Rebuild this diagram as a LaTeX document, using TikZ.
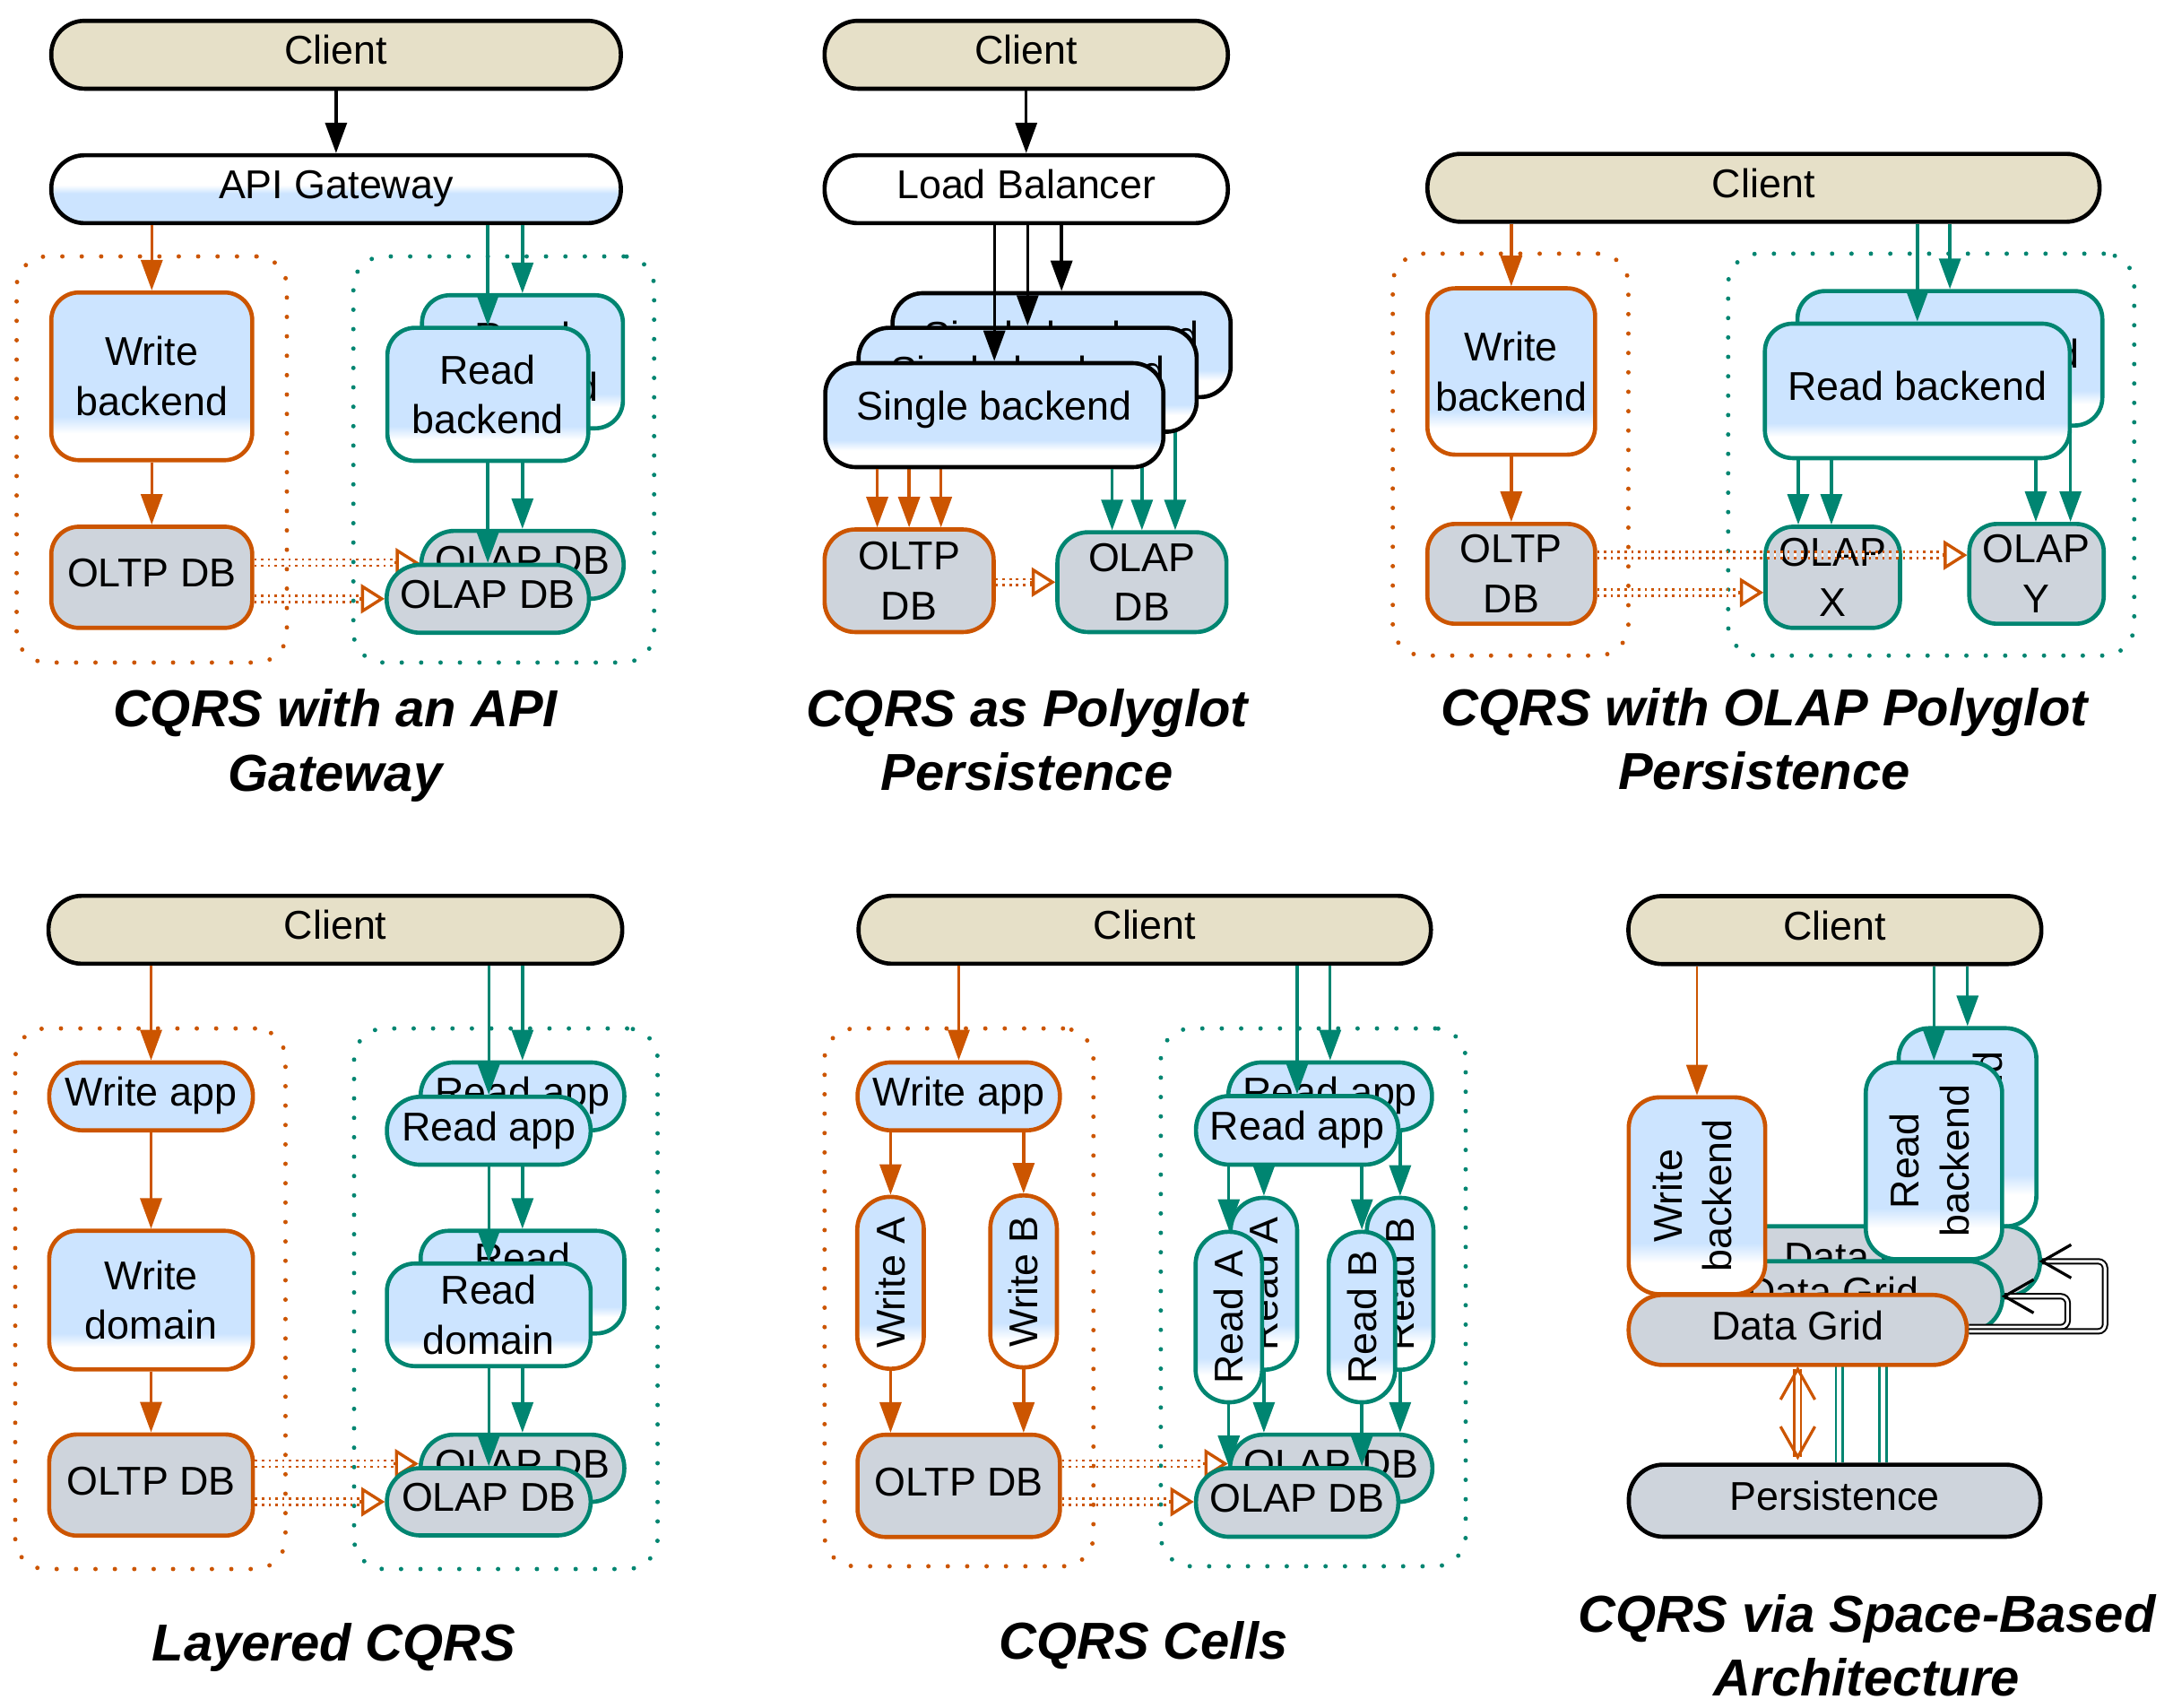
\documentclass[tikz,border=0pt]{standalone}
\usepackage{fontspec}
\usepackage{graphicx}
\setmainfont{Liberation Sans}
\usetikzlibrary{arrows.meta}

\definecolor{orng}{RGB}{204,85,0}
\definecolor{tealc}{RGB}{0,133,113}
\definecolor{lblue}{RGB}{204,228,255}
\definecolor{dbgray}{RGB}{206,212,220}
\definecolor{beige}{RGB}{230,224,200}

% light blue body that turns white near the bottom edge
\pgfdeclareverticalshading{bluewhite}{100bp}{color(0bp)=(white); color(33bp)=(white); color(38bp)=(lblue); color(100bp)=(lblue)}
% white upper half, light blue lower half
\pgfdeclareverticalshading{whiteblue}{100bp}{color(0bp)=(lblue); color(47bp)=(lblue); color(53bp)=(white); color(100bp)=(white)}

\tikzset{
  every node/.style={inner sep=0pt, align=center, font=\fontsize{29}{36}\selectfont},
  sz/.style 2 args={minimum width=#1pt, minimum height=#2pt},
  rc/.style={rounded corners=#1pt},
  one/.style={text height=21pt, text depth=7pt},
  sbk/.style={text height=21pt, text depth=14pt},
  bx/.style={rectangle, line width=3pt},
  cli/.style={bx, draw=black, fill=beige},
  gate/.style={bx, draw=black, shading=whiteblue, shade},
  plain/.style={bx, draw=black, fill=white},
  obox/.style={bx, draw=orng, shading=bluewhite, shade},
  tbox/.style={bx, draw=tealc, shading=bluewhite, shade},
  kbox/.style={bx, draw=black, shading=bluewhite, shade},
  oapp/.style={bx, draw=orng, fill=lblue},
  tapp/.style={bx, draw=tealc, fill=lblue},
  odb/.style={bx, draw=orng, fill=dbgray},
  tdb/.style={bx, draw=tealc, fill=dbgray},
  kdb/.style={bx, draw=black, fill=dbgray},
  cont/.style={rectangle, line width=3.2pt, dash pattern=on 0pt off 14pt, line cap=round, rounded corners=22pt},
  ocont/.style={cont, draw=orng},
  tcont/.style={cont, draw=tealc},
  arr/.style={line width=2.2pt, -{Triangle[length=22pt,width=15.5pt]}},
  karr/.style={arr, draw=black},
  oarr/.style={arr, draw=orng},
  tarr/.style={arr, draw=tealc},
  sync/.style={draw=orng, line width=1.7pt, double=white, double distance=2.8pt, dash pattern=on 1.7pt off 3.2pt, shorten >=17pt},
  synchead/.style={draw=orng, line width=2.2pt, -{Triangle[open,length=17pt,width=21pt]}},
  ttl/.style={font=\fontsize{37.5}{46}\selectfont\bfseries\itshape},
  kdbl/.style={draw=black, line width=1.3pt, double=white, double distance=2pt, rounded corners=5pt},
  odbl/.style={draw=orng, line width=1.7pt, double=white, double distance=3.2pt},
  tdbl/.style={draw=tealc, line width=1.8pt, double=white, double distance=3.2pt},
  kvee/.style={draw=black, line width=2.1pt},
  ovee/.style={draw=orng, line width=2.1pt},
}

\begin{document}
\begin{tikzpicture}[x=1pt, y=-1pt]
\useasboundingbox (0,0) rectangle (1568,1232);

% ================= CQRS with an API Gateway =================
\node[ocont, sz={195}{293}] (oc1) at (109.5,331.5) {};
\node[tcont, sz={217}{293}] (tc1) at (363.5,331.5) {};
\node[cli, one, sz={411}{49}, rc=24] (c1) at (242.5,39.5) {Client};
\node[gate, one, sz={411}{49}, rc=24] (gw1) at (242.5,136.5) {API Gateway};
\node[obox, sz={145}{121}, rc=20] (wb1) at (109.5,271.5) {Write\\backend};
\node[odb, one, sz={145}{73}, rc=20] (oltp1) at (109.5,416.5) {OLTP DB};
\node[tbox, sz={145}{96}, rc=20] (rbB1) at (377,261) {Read\\backend};
\node[tdb, one, sz={146}{49}, rc=24] (olapB1) at (377,407.5) {OLAP DB};
\draw[tarr] (gw1.south -| rbB1.north) -- (rbB1.north);
\draw[tarr] (rbB1.south) -- (olapB1.north);
\coordinate (r1u) at (0,406);
\coordinate (r1l) at (0,432);
\draw[sync] (oltp1.east |- r1u) -- (olapB1.west |- r1u);
\draw[synchead] (olapB1.west |- r1u) ++(-18,0) -- ++(18,0);
\node[tbox, sz={145}{96}, rc=20] (rbF1) at (352,284.5) {Read\\backend};
\node[tdb, one, sz={146}{49}, rc=24] (olapF1) at (352,432) {OLAP DB};
\draw[tarr] (gw1.south -| rbF1.north) -- (rbF1.north);
\draw[tarr] (rbF1.south) -- (olapF1.north);
\draw[sync] (oltp1.east |- r1l) -- (olapF1.west |- r1l);
\draw[synchead] (olapF1.west |- r1l) ++(-18,0) -- ++(18,0);
\draw[karr] (c1) -- (gw1);
\draw[oarr] (gw1.south -| wb1.north) -- (wb1.north);
\draw[oarr] (wb1) -- (oltp1);
\node[ttl] (t1) at (242,537.9) {CQRS with an API\\Gateway};

% ================= CQRS as Polyglot Persistence =================
\node[cli, one, sz={291}{49}, rc=24] (c2) at (740.5,39.5) {Client};
\node[plain, one, sz={291}{49}, rc=24] (lb2) at (740.5,136.5) {Load Balancer};
\node[odb, sz={122}{74}, rc=22] (oltp2) at (656,419) {OLTP\\DB};
\node[tdb, sz={122}{72}, rc=22] (olap2) at (824,420) {OLAP\\DB};
\coordinate (x2a) at (633,0);
\coordinate (x2b) at (656,0);
\coordinate (x2c) at (679,0);
\coordinate (x2d) at (802.5,0);
\coordinate (x2e) at (824,0);
\coordinate (x2f) at (848,0);
\node[kbox, sbk, sz={244}{75}, rc=22] (sbB2) at (766,249) {Single backend};
\draw[karr] (lb2.south -| sbB2.north) -- (sbB2.north);
\draw[oarr] (sbB2.south -| x2c) -- (oltp2.north -| x2c);
\draw[tarr] (sbB2.south -| x2f) -- (olap2.north -| x2f);
\node[kbox, sbk, sz={244}{75}, rc=22] (sbM2) at (741.5,274) {Single backend};
\draw[karr] (lb2.south -| sbM2.north) -- (sbM2.north);
\draw[oarr] (sbM2.south -| x2b) -- (oltp2.north -| x2b);
\draw[tarr] (sbM2.south -| x2e) -- (olap2.north -| x2e);
\node[kbox, sbk, sz={244}{75}, rc=22] (sbF2) at (717.5,299.5) {Single backend};
\draw[karr] (lb2.south -| sbF2.north) -- (sbF2.north);
\draw[oarr] (sbF2.south -| x2a) -- (oltp2.north -| x2a);
\draw[tarr] (sbF2.south -| x2d) -- (olap2.north -| x2d);
\draw[karr] (c2) -- (lb2);
\coordinate (r2) at (0,420);
\draw[sync] (oltp2.east |- r2) -- (olap2.west |- r2);
\draw[synchead] (olap2.west |- r2) ++(-18,0) -- ++(18,0);
\node[ttl] (t2) at (741,533.9) {CQRS as Polyglot\\Persistence};

% ================= CQRS with OLAP Polyglot Persistence =================
\node[ocont, sz={170}{290}] (oc3) at (1090,328) {};
\node[tcont, sz={293}{290}] (tc3) at (1393.5,328) {};
\node[cli, one, sz={485}{49}, rc=24] (c3) at (1272.5,135.5) {Client};
\node[obox, sz={121}{120}, rc=20] (wb3) at (1090.5,268) {Write\\backend};
\node[odb, sz={121}{72}, rc=20] (oltp3) at (1090.5,414) {OLTP\\DB};
\node[tdb, sz={97}{73}, rc=20] (olapX3) at (1322.5,416.5) {OLAP\\X};
\node[tdb, sz={97}{72}, rc=20] (olapY3) at (1469.5,414) {OLAP\\Y};
\coordinate (x3a) at (1297.6,0);
\coordinate (x3b) at (1321.5,0);
\coordinate (x3c) at (1469,0);
\coordinate (x3d) at (1494,0);
\node[tbox, one, sz={220}{97}, rc=20] (rbB3) at (1407,258.5) {Read backend};
\draw[tarr] (c3.south -| rbB3.north) -- (rbB3.north);
\draw[tarr] (rbB3.south -| x3b) -- (olapX3.north -| x3b);
\draw[tarr] (rbB3.south -| x3d) -- (olapY3.north -| x3d);
\node[tbox, one, sz={220}{97}, rc=20] (rbF3) at (1383.5,282) {Read backend};
\draw[tarr] (c3.south -| rbF3.north) -- (rbF3.north);
\draw[tarr] (rbF3.south -| x3a) -- (olapX3.north -| x3a);
\draw[tarr] (rbF3.south -| x3c) -- (olapY3.north -| x3c);
\draw[oarr] (c3.south -| wb3.north) -- (wb3.north);
\draw[oarr] (wb3) -- (oltp3);
\coordinate (r3u) at (0,400.5);
\coordinate (r3l) at (0,427.5);
\draw[sync] (oltp3.east |- r3u) -- (olapY3.west |- r3u);
\draw[synchead] (olapY3.west |- r3u) ++(-18,0) -- ++(18,0);
\draw[sync] (oltp3.east |- r3l) -- (olapX3.west |- r3l);
\draw[synchead] (olapX3.west |- r3l) ++(-18,0) -- ++(18,0);
\node[ttl] (t3) at (1273,532.9) {CQRS with OLAP Polyglot\\Persistence};

% ================= Layered CQRS =================
\node[ocont, sz={195}{390}] (oc4) at (108.5,937) {};
\node[tcont, sz={219}{390}] (tc4) at (365,937) {};
\node[cli, one, sz={414}{49}, rc=24] (c4) at (242,670.8) {Client};
\node[oapp, one, sz={147}{49}, rc=24] (wapp4) at (109,791) {Write app};
\node[obox, sz={147}{100}, rc=20] (wdom4) at (109,938) {Write\\domain};
\node[odb, one, sz={147}{73}, rc=20] (oltp4) at (109,1071.4) {OLTP DB};
\node[tapp, one, sz={147}{49}, rc=24] (rappB4) at (377,791) {Read app};
\node[tbox, sz={147}{74}, rc=20] (rdomB4) at (377,925) {Read\\domain};
\node[tdb, one, sz={147}{48.5}, rc=24] (olapB4) at (377,1059.3) {OLAP DB};
\draw[tarr] (c4.south -| rappB4.north) -- (rappB4.north);
\draw[tarr] (rappB4) -- (rdomB4);
\draw[tarr] (rdomB4) -- (olapB4);
\coordinate (r4u) at (0,1056);
\coordinate (r4l) at (0,1083.5);
\draw[sync] (oltp4.east |- r4u) -- (olapB4.west |- r4u);
\draw[synchead] (olapB4.west |- r4u) ++(-18,0) -- ++(18,0);
\node[tapp, one, sz={147}{49}, rc=24] (rappF4) at (352.7,815.8) {Read app};
\node[tbox, sz={147}{74}, rc=20] (rdomF4) at (352.7,948.6) {Read\\domain};
\node[tdb, one, sz={147}{48.5}, rc=24] (olapF4) at (352.7,1083.5) {OLAP DB};
\draw[tarr] (c4.south -| rappF4.north) -- (rappF4.north);
\draw[tarr] (rappF4) -- (rdomF4);
\draw[tarr] (rdomF4) -- (olapF4);
\draw[sync] (oltp4.east |- r4l) -- (olapF4.west |- r4l);
\draw[synchead] (olapF4.west |- r4l) ++(-18,0) -- ++(18,0);
\draw[oarr] (c4.south -| wapp4.north) -- (wapp4.north);
\draw[oarr] (wapp4) -- (wdom4);
\draw[oarr] (wdom4) -- (oltp4);
\node[ttl] (t4) at (241,1188.9) {Layered CQRS};

% ================= CQRS Cells =================
\node[ocont, sz={194}{388}] (oc5) at (692,936) {};
\node[tcont, sz={220}{388}] (tc5) at (947.6,936) {};
\node[cli, one, sz={413}{49}, rc=24] (c5) at (826,670.8) {Client};
\node[oapp, one, sz={146}{49}, rc=24] (wapp5) at (691.8,791) {Write app};
\node[obox, sz={48}{124}, rc=23.5] (wA5) at (642.6,925.5) {\rotatebox{90}{Write A}};
\node[obox, sz={48}{124}, rc=23.5] (wB5) at (738.6,924.5) {\rotatebox{90}{Write B}};
\node[odb, one, sz={146}{73.7}, rc=20] (oltp5) at (691.8,1072) {OLTP DB};
\node[tapp, one, sz={147}{49}, rc=24] (rappB5) at (959.8,791) {Read app};
\node[tbox, sz={48}{124}, rc=23.5] (rAB5) at (912,926.2) {\rotatebox{90}{Read A}};
\node[tbox, sz={48}{124}, rc=23.5] (rBB5) at (1010.3,926.2) {\rotatebox{90}{Read B}};
\node[tdb, one, sz={146}{48.5}, rc=24] (olapB5) at (960.6,1059.3) {OLAP DB};
\draw[tarr] (c5.south -| rappB5.north) -- (rappB5.north);
\draw[tarr] (rappB5.south -| rAB5.north) -- (rAB5.north);
\draw[tarr] (rappB5.south -| rBB5.north) -- (rBB5.north);
\draw[tarr] (rAB5.south) -- (olapB5.north -| rAB5.south);
\draw[tarr] (rBB5.south) -- (olapB5.north -| rBB5.south);
\coordinate (r5u) at (0,1056);
\coordinate (r5l) at (0,1083.5);
\draw[sync] (oltp5.east |- r5u) -- (olapB5.west |- r5u);
\draw[synchead] (olapB5.west |- r5u) ++(-18,0) -- ++(18,0);
\node[tapp, one, sz={146}{49.5}, rc=24] (rappF5) at (936,815.5) {Read app};
\node[tbox, sz={48}{123}, rc=23.5] (rAF5) at (886.7,950.2) {\rotatebox{90}{Read A}};
\node[tbox, sz={48}{123}, rc=23.5] (rBF5) at (982.7,950.2) {\rotatebox{90}{Read B}};
\node[tdb, one, sz={146}{49.5}, rc=24] (olapF5) at (936,1084) {OLAP DB};
\draw[tarr] (c5.south -| rappF5.north) -- (rappF5.north);
\draw[tarr] (rappF5.south -| rAF5.north) -- (rAF5.north);
\draw[tarr] (rappF5.south -| rBF5.north) -- (rBF5.north);
\draw[tarr] (rAF5.south) -- (olapF5.north -| rAF5.south);
\draw[tarr] (rBF5.south) -- (olapF5.north -| rBF5.south);
\draw[sync] (oltp5.east |- r5l) -- (olapF5.west |- r5l);
\draw[synchead] (olapF5.west |- r5l) ++(-18,0) -- ++(18,0);
\draw[oarr] (c5.south -| wapp5.north) -- (wapp5.north);
\draw[oarr] (wapp5.south -| wA5.north) -- (wA5.north);
\draw[oarr] (wapp5.south -| wB5.north) -- (wB5.north);
\draw[oarr] (wA5.south) -- (oltp5.north -| wA5.south);
\draw[oarr] (wB5.south) -- (oltp5.north -| wB5.south);
\node[ttl] (t5) at (825,1187.2) {CQRS Cells};

% ================= CQRS via Space-Based Architecture =================
\node[cli, one, sz={298}{49}, rc=24] (c6) at (1324,671) {Client};
\node[tbox, sz={99.4}{143}, rc=22] (rbB6) at (1419.7,813.3)
  {\rotatebox{90}{\begin{tabular}{@{}c@{}}Read\\backend\end{tabular}}};
\node[tdb, one, sz={245}{50.5}, rc=24.5] (dgB6) at (1349.5,910) {Data Grid};
\node[tbox, sz={98.4}{142}, rc=22] (rbF6) at (1395.5,837.5)
  {\rotatebox{90}{\begin{tabular}{@{}c@{}}Read\\backend\end{tabular}}};
\node[tdb, one, sz={245}{50.5}, rc=24.5] (dgM6) at (1322.4,935.2) {Data Grid};
\node[obox, sz={98.5}{142}, rc=22] (wb6) at (1224.5,862.7)
  {\rotatebox{90}{\begin{tabular}{@{}c@{}}Write\\backend\end{tabular}}};
\node[kdb, one, sz={297}{52}, rc=25] (pers6) at (1323.8,1082.7) {Persistence};
\coordinate (tx1) at (1327.2,0);
\coordinate (tx2) at (1358.7,0);
\draw[tdbl] (dgM6.south -| tx1) -- (pers6.north -| tx1);
\draw[tdbl] (dgB6.south -| tx2) -- (pers6.north -| tx2);
\node[odb, one, sz={244}{50.5}, rc=24.5] (dgF6) at (1297.2,959.5) {Data Grid};
\draw[arr, draw=orng, line width=1.2pt] (c6.south -| wb6.north) -- (wb6.north);
\draw[tarr] (c6.south -| rbB6.north) -- (rbB6.north);
\draw[tarr] (c6.south -| rbF6.north) -- (rbF6.north);
% replication loops between the grids
\coordinate (lp1) at (1492,0);
\coordinate (lp2) at (1519,0);
\draw[kdbl] ([yshift=2pt]dgF6.east) -| (lp1 |- dgM6.east) -- (dgM6.east);
\draw[kvee] ([shift={(21pt,12pt)}]dgM6.east) -- (dgM6.east) -- ([shift={(21pt,-12pt)}]dgM6.east);
\draw[kdbl] ([yshift=-1pt]dgF6.east) -| (lp2 |- dgB6.east) -- (dgB6.east);
\draw[kvee] ([shift={(21pt,12pt)}]dgB6.east) -- (dgB6.east) -- ([shift={(21pt,-12pt)}]dgB6.east);
% grid <-> persistence
\coordinate (ax6) at (dgF6.south |- pers6.north);
\draw[odbl, shorten <=1.5pt, shorten >=4pt] (dgF6.south) -- (ax6);
\draw[ovee] ([shift={(-12.4pt,-23.5pt)}]dgF6.south) -- ([yshift=-1.5pt]dgF6.south) -- ([shift={(12.4pt,-23.5pt)}]dgF6.south);
\draw[ovee] ([shift={(-12.4pt,26pt)}]ax6) -- ([yshift=4pt]ax6) -- ([shift={(12.4pt,26pt)}]ax6);
\node[ttl] (t6) at (1347,1186.9) {CQRS via Space-Based\\Architecture};

\end{tikzpicture}
\end{document}
